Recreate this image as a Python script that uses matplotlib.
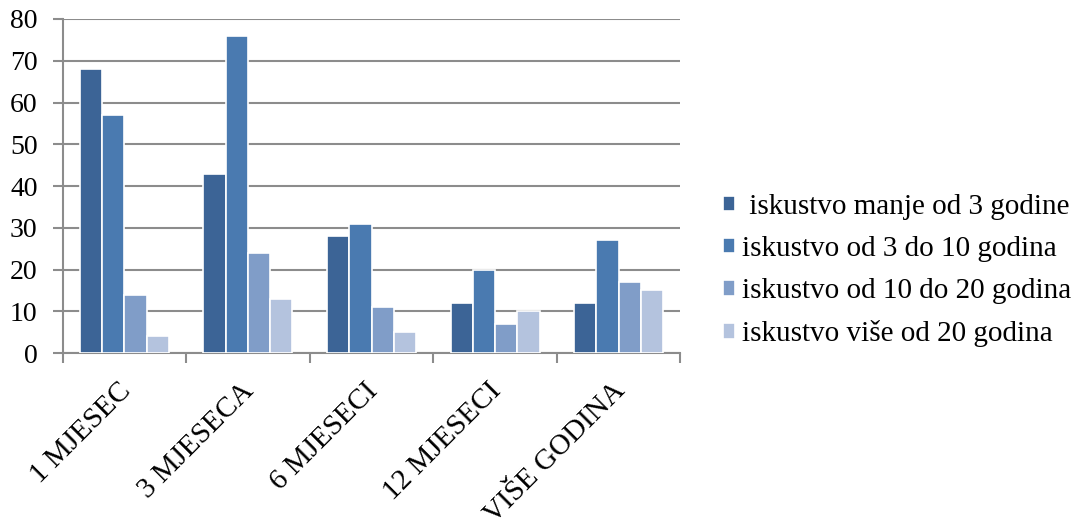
import numpy as np
import matplotlib.pyplot as plt
import matplotlib.transforms as mtransforms

plt.rcParams['font.family'] = ['Liberation Serif', 'DejaVu Serif']

categories = ['1 MJESEC', '3 MJESECA', '6 MJESECI', '12 MJESECI', 'VIŠE GODINA']
series_names = [' iskustvo manje od 3 godine', 'iskustvo od 3 do 10 godina',
                'iskustvo od 10 do 20 godina', 'iskustvo više od 20 godina']
manje_3 = [68, 43, 28, 12, 12]
od_3_do_10 = [57, 76, 31, 20, 27]
od_10_do_20 = [14, 24, 11, 7, 17]
vise_20 = [4, 13, 5, 10, 15]
colors = ['#3c6496', '#4a7ab0', '#809dc8', '#b4c3de']

fig = plt.figure(figsize=(10.8, 5.27), dpi=100)
ax = fig.add_axes([0.058, 0.33, 0.572, 0.634])

x = np.arange(len(categories))
w = 0.18
data = [manje_3, od_3_do_10, od_10_do_20, vise_20]
for i, vals in enumerate(data):
    ax.bar(x + (i - 1.5) * w, vals, w, color=colors[i], edgecolor='white',
           linewidth=1.2, label=series_names[i], zorder=3)

ax.set_xlim(-0.5, len(categories) - 0.5)
ax.set_ylim(0, 80)
ax.set_yticks(range(0, 81, 10))
ax.yaxis.grid(True, color='#8c8c8c', linewidth=1.5, zorder=0)
ax.set_axisbelow(True)

# boundary ticks as major, labels on minor ticks at group centres
ax.set_xticks(np.arange(-0.5, len(categories)), minor=False)
ax.set_xticklabels([])
ax.set_xticks(x, minor=True)
ax.set_xticklabels(categories, minor=True, rotation=45, ha='right',
                   rotation_mode='anchor', fontsize=21)
ax.tick_params(axis='x', which='minor', length=0, pad=18)
ax.tick_params(axis='x', which='major', length=7, width=1.5, color='#8c8c8c')
ax.tick_params(axis='y', length=7, width=1.5, color='#8c8c8c', labelsize=20, pad=11)

shift = mtransforms.ScaledTranslation(-7 / 100, 0, fig.dpi_scale_trans)
for lab in ax.get_xticklabels(minor=True):
    lab.set_transform(lab.get_transform() + shift)

for s in ['top', 'right']:
    ax.spines[s].set_visible(False)
for s in ['left', 'bottom']:
    ax.spines[s].set_color('#8c8c8c')
    ax.spines[s].set_linewidth(1.5)

leg = ax.legend(loc='center left', bbox_to_anchor=(0.645, 0.486),
                bbox_transform=fig.transFigure, frameon=False,
                fontsize=21, handlelength=0.42, handleheight=0.42,
                handletextpad=0.25, labelspacing=0.55)

fig.savefig('out.png', dpi=100)
